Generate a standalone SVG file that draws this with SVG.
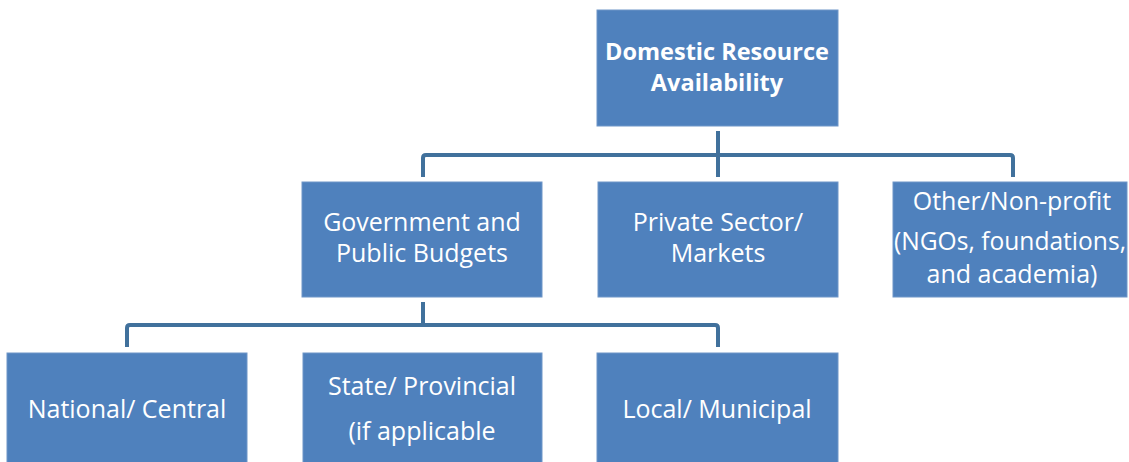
<svg xmlns="http://www.w3.org/2000/svg" width="1129" height="462" viewBox="0 0 1129 462">
<style>
.box{fill:#4F81BD;stroke:#6F96C8;stroke-width:1}
.t{font-family:"Open Sans","Liberation Sans",sans-serif;font-size:25px;fill:#FFFFFF;text-anchor:middle}
.b{font-weight:bold;font-size:23.5px}
.c{fill:none;stroke:#41719C;stroke-width:4;stroke-linejoin:round}
</style>
<rect width="1129" height="462" fill="#FFFFFF"/>
<g id="connectors">
<path class="c" d="M718 131 V177"/>
<path class="c" d="M423 177 V158 Q423 155 426 155 H1010 Q1013 155 1013 158 V177"/>
<path class="c" d="M423 302 V325"/>
<path class="c" d="M127 347 V328 Q127 325 130 325 H715 Q718 325 718 328 V347"/>
</g>
<g id="n-domestic">
<rect class="box" x="597" y="10" width="241" height="116"/>
<text class="t b" x="717" y="60">Domestic Resource</text>
<text class="t b" x="717" y="91">Availability</text>
</g>
<g id="n-government">
<rect class="box" x="302" y="182" width="240" height="115"/>
<text class="t" x="422" y="231">Government and</text>
<text class="t" x="422" y="262">Public Budgets</text>
</g>
<g id="n-private">
<rect class="box" x="598" y="182" width="240" height="115"/>
<text class="t" x="718" y="231">Private Sector/</text>
<text class="t" x="718" y="262">Markets</text>
</g>
<g id="n-other">
<rect class="box" x="893" y="182" width="234" height="115"/>
<text class="t" x="1012" y="210">Other/Non-profit</text>
<text class="t" x="1010" y="250" textLength="232" lengthAdjust="spacingAndGlyphs">(NGOs, foundations,</text>
<text class="t" x="1012" y="283">and academia)</text>
</g>
<g id="n-national">
<rect class="box" x="7" y="353" width="240" height="115"/>
<text class="t" x="127" y="418">National/ Central</text>
</g>
<g id="n-state">
<rect class="box" x="303" y="353" width="239" height="115"/>
<text class="t" x="422" y="395">State/ Provincial</text>
<text class="t" x="422" y="440">(if applicable</text>
</g>
<g id="n-local">
<rect class="box" x="597" y="353" width="241" height="115"/>
<text class="t" x="717" y="418">Local/ Municipal</text>
</g>
</svg>
